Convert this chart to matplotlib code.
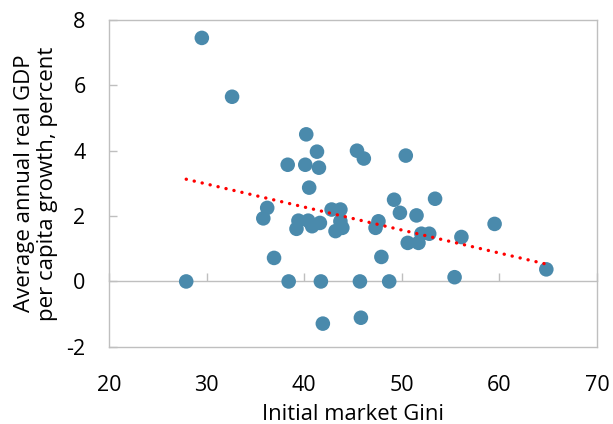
import numpy as np
import matplotlib
matplotlib.use('Agg')
import matplotlib.pyplot as plt

# --- data ---
gini = [27.9, 29.5, 32.6, 35.8, 36.2, 36.9, 38.3, 38.4, 39.2, 39.4,
        40.1, 40.2, 40.4, 40.5, 40.8, 41.3, 41.5, 41.6, 41.7, 41.9,
        42.8, 43.2, 43.7, 43.7, 43.9, 45.4, 45.7, 45.8, 46.1, 47.3,
        47.6, 47.9, 48.7, 49.2, 49.8, 50.4, 50.6, 51.5, 51.7, 52.0,
        52.8, 53.4, 55.4, 56.1, 59.5, 64.8]
growth = [0.0, 7.45, 5.65, 1.93, 2.25, 0.72, 3.57, 0.0, 1.61, 1.86,
          3.57, 4.5, 1.86, 2.87, 1.69, 3.97, 3.48, 1.79, 0.0, -1.29,
          2.2, 1.54, 2.2, 1.84, 1.64, 4.0, 0.0, -1.11, 3.76, 1.64,
          1.84, 0.75, 0.0, 2.5, 2.1, 3.85, 1.18, 2.02, 1.18, 1.46,
          1.46, 2.53, 0.13, 1.36, 1.76, 0.37]

x_ticks = [20, 30, 40, 50, 60, 70]
y_ticks = [-2, 0, 2, 4, 6, 8]
y_labels = ['-2', '0', '2', '4', '6', '8']

plt.rcParams['font.family'] = ['Open Sans', 'DejaVu Sans']
grey = '#BFBFBF'

fig = plt.figure(figsize=(6.13, 4.24), dpi=100)
ax = fig.add_axes([0.178, 0.182, 0.796, 0.771])

ax.scatter(gini, growth, s=110, color='#4A8AAC', edgecolors='none', zorder=3)

# linear trend through the points
coef = np.polyfit(gini, growth, 1)
xl = np.array([min(gini), max(gini)])
ax.plot(xl, np.polyval(coef, xl), color='#FF0000', linewidth=2.4,
        linestyle=(0, (0.05, 2.4)), dash_capstyle='round', zorder=4)

ax.set_xlim(20, 70)
ax.set_ylim(-2, 8)
ax.set_xticks(x_ticks)
ax.set_yticks(y_ticks, y_labels)

for s in ax.spines.values():
    s.set_color(grey)
    s.set_linewidth(1.0)

ax.tick_params(axis='x', length=0, pad=20, labelsize=15.5)
ax.tick_params(axis='y', direction='in', length=6, width=1.0, color=grey,
               pad=17, labelsize=15.5)

# zero line carrying the x tick marks
zero = ax.secondary_xaxis((0 - (-2)) / 10)
zero.set_xticks(x_ticks)
zero.tick_params(direction='in', length=6, width=1.0, color=grey, labelbottom=False)
zero.spines['bottom'].set_color(grey)
zero.spines['bottom'].set_linewidth(1.0)

ax.set_xlabel('Initial market Gini', fontsize=15.8, labelpad=6)
ax.set_ylabel('Average annual real GDP\nper capita growth, percent', fontsize=16,
              labelpad=6, linespacing=1.1)

fig.savefig('out.png', dpi=100)
